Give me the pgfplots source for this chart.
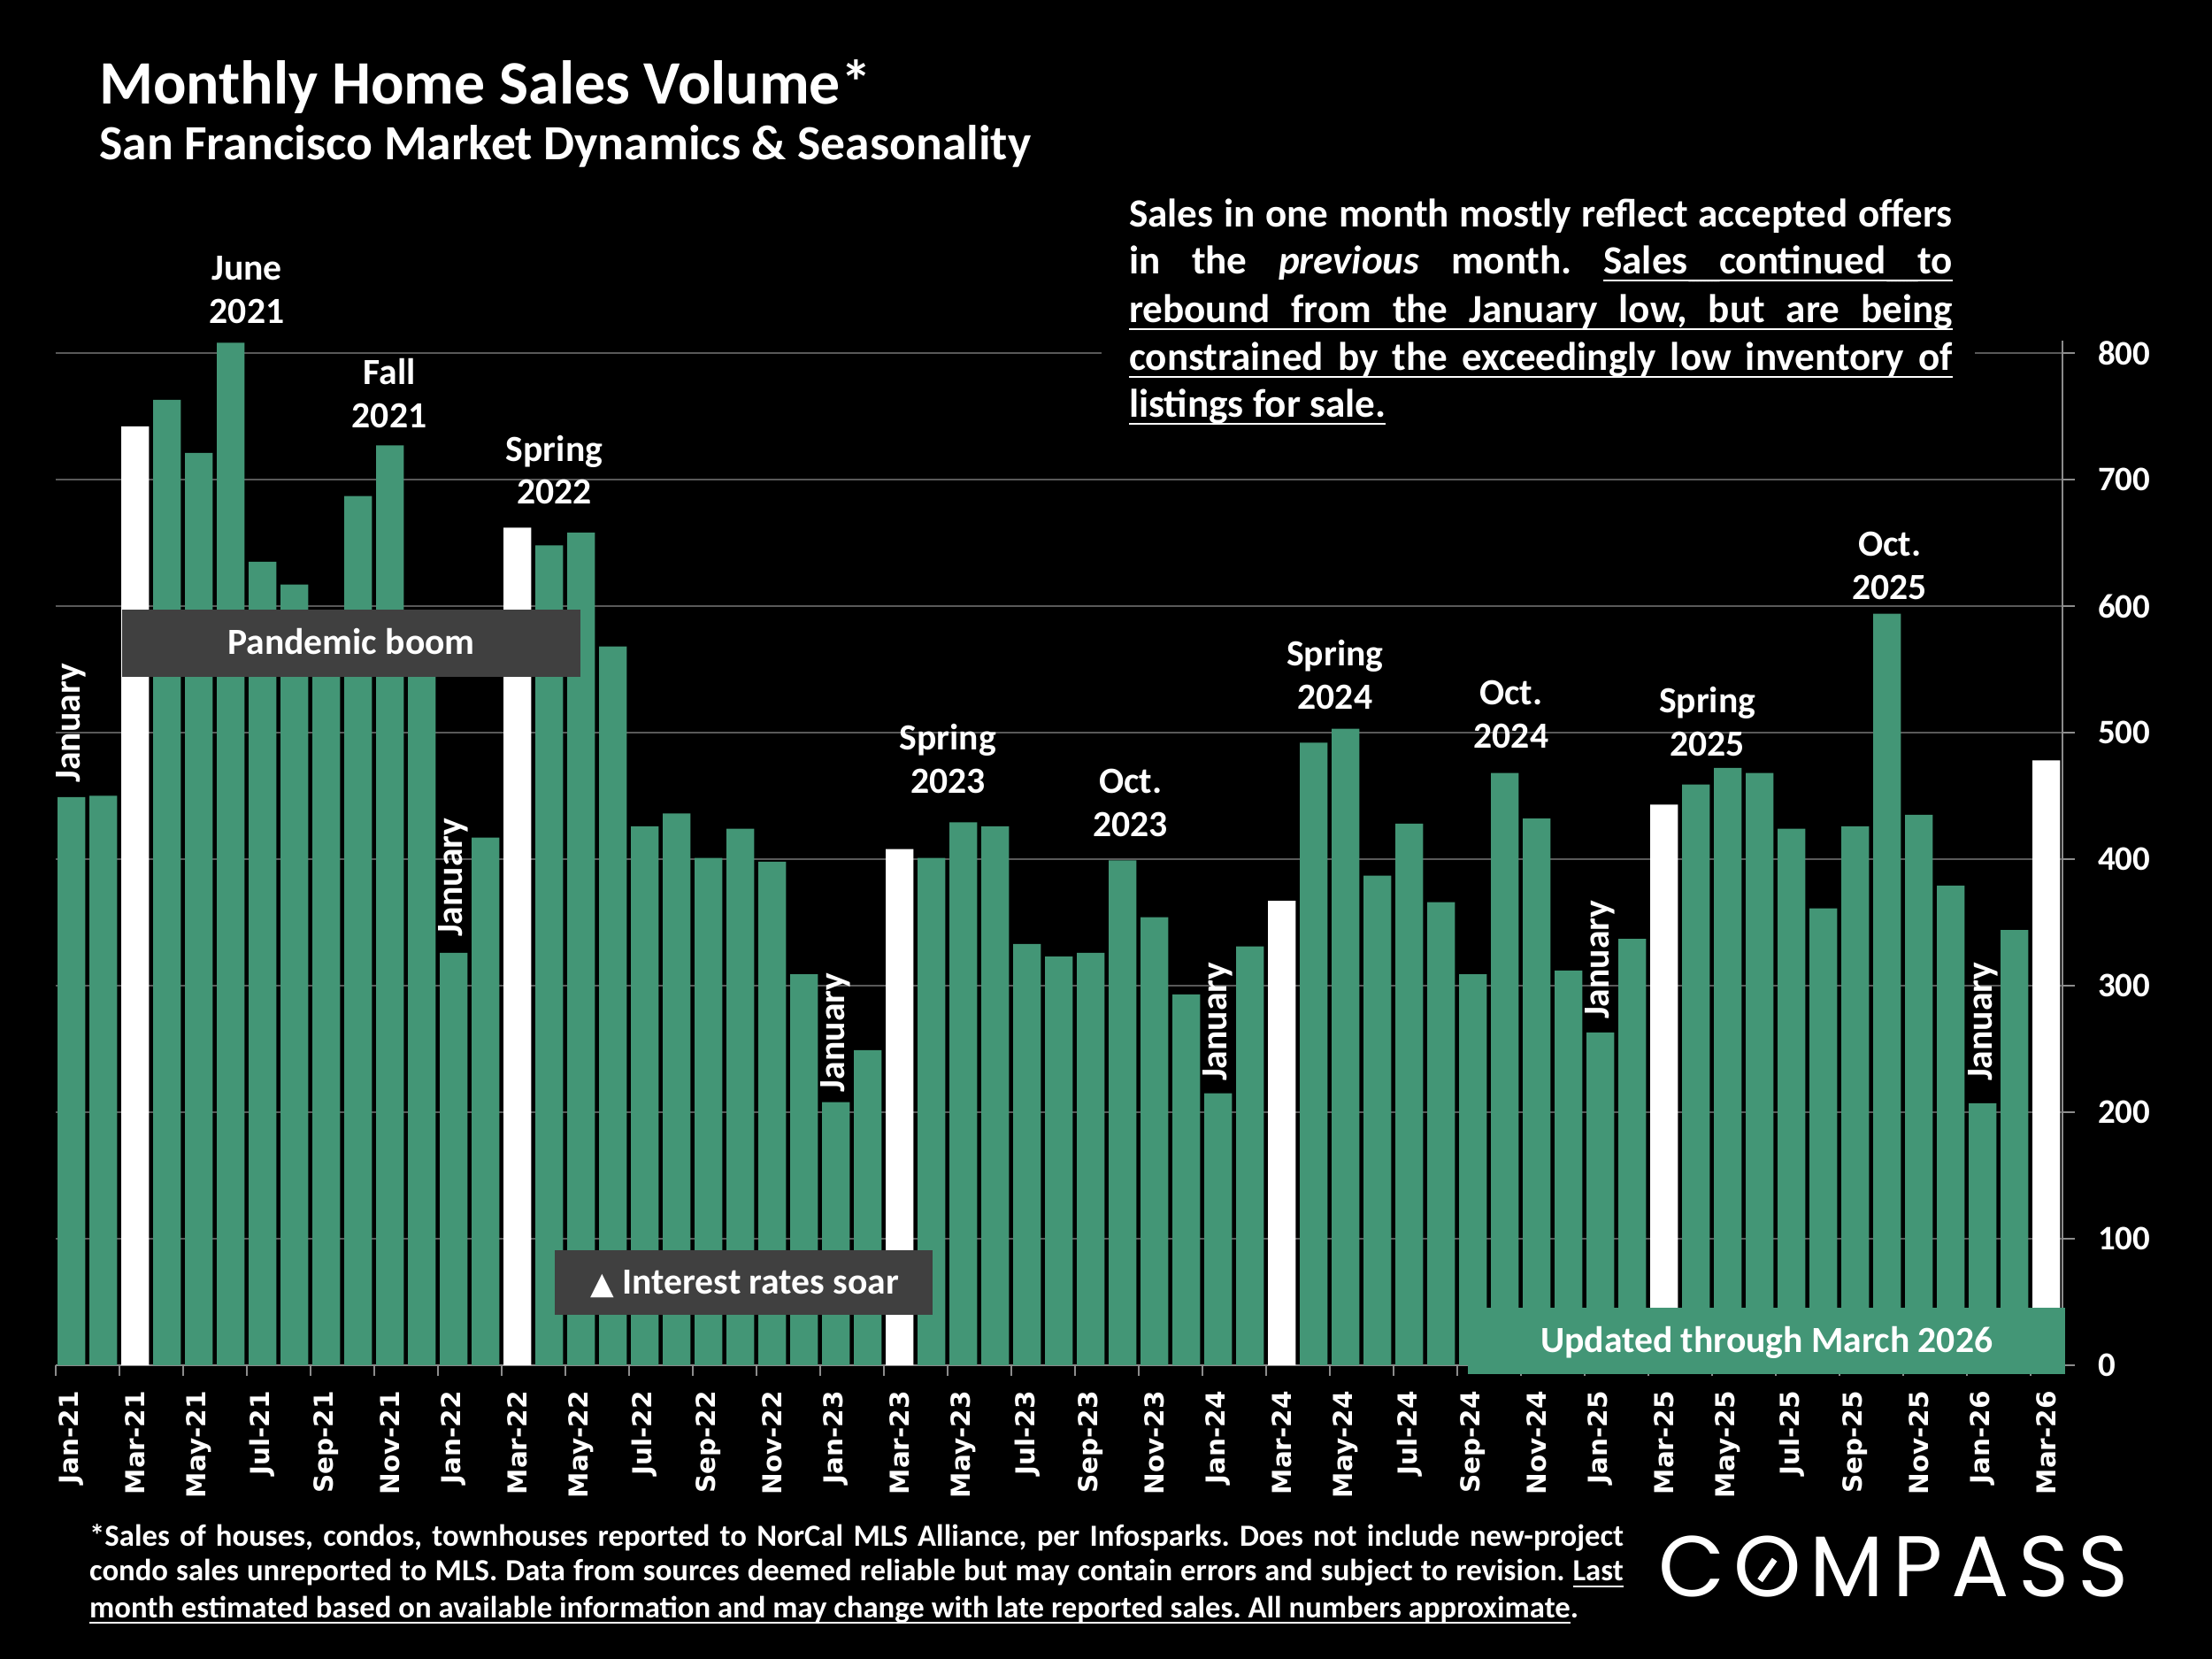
\documentclass[border=0pt]{standalone}
\usepackage{fontspec}
\setmainfont{Carlito}
\newfontfamily\dejavu{DejaVu Sans}
\newfontfamily\poppins{Poppins}
\usepackage{pgfplots}
\pgfplotsset{compat=1.18}
\usepackage{graphicx}
\definecolor{bargreen}{HTML}{439676}
\definecolor{boxgray}{HTML}{404040}
\definecolor{gridgray}{HTML}{595959}
\definecolor{axisgray}{HTML}{8C8C8C}
\newcommand\slashO{\setbox0\hbox{O}\rlap{O}\hbox to\wd0{\hss\raisebox{0.3\ht0}{\rotatebox{-35}{\rule{0.07em}{0.42\ht0}}}\hss}}
% underline helpers
\newlength\uldp \setlength\uldp{2.4pt}
\newlength\ulht \setlength\ulht{0.6pt}
\newcommand\ulw[1]{\setbox0\hbox{#1}\rlap{\rule[-\uldp]{\wd0}{\ulht}}\box0}
\newcommand\uls{\leaders\hbox{\rule[-\uldp]{0.05pt}{\ulht}}\hskip\fontdimen2\font plus\fontdimen3\font minus\fontdimen4\font\relax}
\newcommand\ulfull[2]{\rlap{\rule[-\uldp]{#1}{\ulht}}\hbox to #1{#2}}
\begin{document}
\frenchspacing
\begin{tikzpicture}[
  lab/.style={font=\bfseries\fontsize{12}{14.1}\selectfont, text=white, align=center, anchor=south, inner sep=0pt},
  jan/.style={font=\bfseries\fontsize{12}{14.1}\selectfont, text=white, rotate=90, anchor=west, inner sep=0pt},
]
\path[use as bounding box, fill=black] (0,0) rectangle (720pt,540pt);
\begin{axis}[
  scale only axis, width=653.2pt, height=333.6pt,
  at={(18.06pt,95.62pt)}, anchor=south west,
  xmin=-0.5, xmax=62.5, ymin=0, ymax=810,
  axis x line*=bottom, axis y line*=right,
  axis line style={axisgray, line width=0.6pt, -},
  ybar, bar width=0.87,
  ytick={0,100,...,800},
  yticklabel pos=right,
  ymajorgrids, grid style={gridgray, line width=0.45pt},
  xtick={0,2,...,62},
  xticklabels={Jan-21,Mar-21,May-21,Jul-21,Sep-21,Nov-21,Jan-22,Mar-22,May-22,Jul-22,Sep-22,Nov-22,Jan-23,Mar-23,May-23,Jul-23,Sep-23,Nov-23,Jan-24,Mar-24,May-24,Jul-24,Sep-24,Nov-24,Jan-25,Mar-25,May-25,Jul-25,Sep-25,Nov-25,Jan-26,Mar-26},
  minor xtick={-0.5,1.5,...,61.5},
  tick align=outside,
  major tick length=4pt, minor tick length=3.5pt,
  every major x tick/.append style={draw=none},
  every minor x tick/.append style={axisgray, line width=0.5pt},
  every major y tick/.append style={axisgray, line width=0.5pt},
  xticklabel style={rotate=90, anchor=east, inner sep=0pt, font=\dejavu\bfseries\fontsize{8.5}{10}\selectfont, text=white},
  xticklabel shift=4.2pt,
  yticklabel style={anchor=west, inner sep=0pt, font=\bfseries\fontsize{11.2}{13}\selectfont, text=white},
  yticklabel shift=7.4pt,
  /pgf/number format/assume math mode=true,
  clip=false,
]
\addplot[fill=bargreen, draw=none, bar shift=0pt] coordinates {
(0,449)(1,450)(3,763)(4,721)(5,808)(6,635)(7,617)(8,582)(9,687)(10,727)(11,562)
(12,326)(13,417)(15,648)(16,658)(17,568)(18,426)(19,436)(20,401)(21,424)(22,398)(23,309)
(24,208)(25,249)(27,401)(28,429)(29,426)(30,333)(31,323)(32,326)(33,399)(34,354)(35,293)
(36,215)(37,331)(39,492)(40,503)(41,387)(42,428)(43,366)(44,309)(45,468)(46,432)(47,312)
(48,263)(49,337)(51,459)(52,472)(53,468)(54,424)(55,361)(56,426)(57,594)(58,435)(59,379)
(60,207)(61,344)};
\addplot[fill=white, draw=none, bar shift=0pt] coordinates {
(2,742)(14,662)(26,408)(38,367)(50,443)(62,478)};
\node[lab] at (axis cs:5.51,822.6) {June\\2021};
\node[lab] at (axis cs:9.98,739.9) {Fall\\2021};
\node[lab] at (axis cs:15.16,679.7) {Spring\\2022};
\node[lab] at (axis cs:27.52,451.6) {Spring\\2023};
\node[lab] at (axis cs:33.25,416.8) {Oct.\\2023};
\node[lab] at (axis cs:39.67,517.8) {Spring\\2024};
\node[lab] at (axis cs:45.2,487) {Oct.\\2024};
\node[lab] at (axis cs:51.36,481) {Spring\\2025};
\node[lab] at (axis cs:57.08,604.7) {Oct.\\2025};
\node[jan] at (axis cs:0,460) {January};
\node[jan] at (axis cs:12,338) {January};
\node[jan] at (axis cs:24,215.5) {January};
\node[jan] at (axis cs:36,224) {January};
\node[jan] at (axis cs:48,273) {January};
\node[jan] at (axis cs:60,224) {January};
\end{axis}
\begin{scope}[x=0.459184pt, y=-0.459184pt, shift={(0pt,540pt)}]
% boxes
\fill[boxgray] (86.7,432.1) rectangle (411.3,479.8);
\node[anchor=base, inner sep=0pt, text=white, font=\bfseries\fontsize{12}{14}\selectfont] at (249,464.1) {Pandemic boom};
\fill[boxgray] (393,886) rectangle (661,932);
\node[anchor=base, inner sep=0pt, text=white, font=\bfseries\fontsize{12}{14}\selectfont] at (528,917) {{\dejavu\fontsize{10}{12}\selectfont ▲} Interest rates soar};
\fill[bargreen] (1040.5,927) rectangle (1463.6,973.8);
\node[anchor=base, inner sep=0pt, text=white, font=\bfseries\fontsize{12}{14}\selectfont] at (1252.3,958.4) {Updated through March 2026};
% titles
\node[anchor=base west, inner sep=0pt, text=white, font=\bfseries\fontsize{20.1}{23}\selectfont] at (70,74) {Monthly Home Sales Volume*};
\node[anchor=base west, inner sep=0pt, text=white, font=\bfseries\fontsize{16}{18}\selectfont] at (70,113) {San Francisco Market Dynamics \& Seasonality};
% top-right note
\fill[black] (781,135) rectangle (1400,305);
\begin{scope}[every node/.style={anchor=base west, inner sep=0pt, text=white, font=\bfseries\fontsize{13}{15.5}\selectfont}]
\node at (800,161) {\hbox to 268pt{Sales in one month mostly reflect accepted offers}};
\node at (800,194.4) {\hbox to 268pt{in the \textit{previous} month. \ulw{Sales}\uls\ulw{continued}\uls\ulw{to}}};
\node at (800,228.9) {\ulfull{268pt}{rebound from the January low, but are being}};
\node at (800,262.4) {\ulfull{268pt}{constrained by the exceedingly low inventory of}};
\node at (800,295.8) {\ulw{listings for sale.}};
\end{scope}
% footnote
\begin{scope}[every node/.style={anchor=base west, inner sep=0pt, text=white, font=\bfseries\fontsize{10}{12}\selectfont}]
\setlength\uldp{2pt}\setlength\ulht{0.5pt}
\node at (63,1095.9) {\hbox to 499.3pt{*Sales of houses, condos, townhouses reported to NorCal MLS Alliance, per Infosparks. Does not include new-project}};
\node at (63,1120.6) {\hbox to 499.3pt{condo sales unreported to MLS. Data from sources deemed reliable but may contain errors and subject to revision. \ulw{Last}}};
\node at (63,1146.7) {\ulw{month estimated based on available information and may change with late reported sales. All numbers approximate}.};
\end{scope}
% logo
\node[anchor=base west, inner sep=0pt, text=white, font=\poppins\fontsize{28}{30}\selectfont] at (1175,1132) {\hbox to 153pt{C\hfill\slashO\hfill M\hfill P\hfill A\hfill S\hfill S}};
\end{scope}
\end{tikzpicture}
\end{document}
